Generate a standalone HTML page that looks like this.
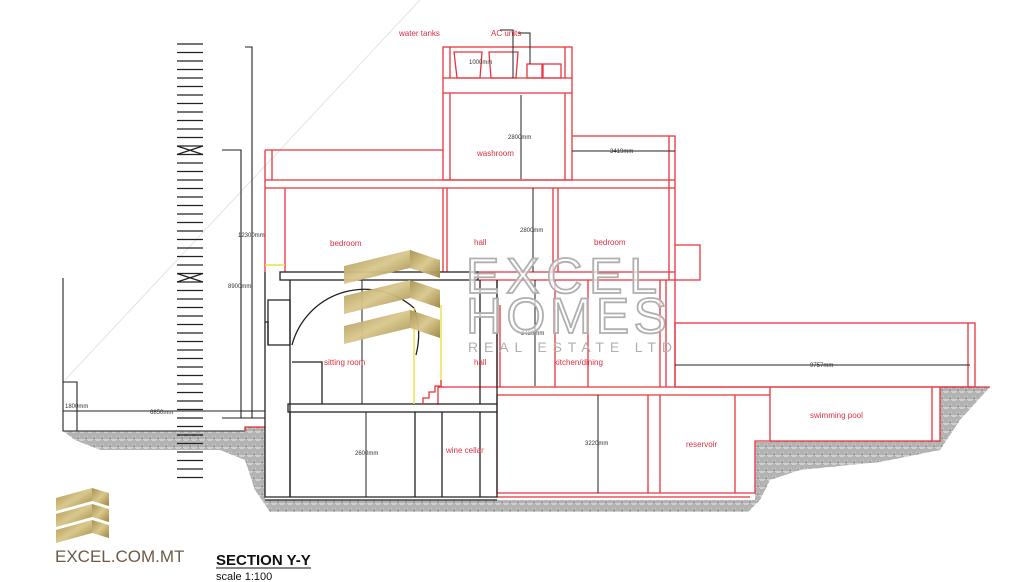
<!DOCTYPE html>
<html><head><meta charset="utf-8"><style>
html,body{margin:0;padding:0;background:#fff;width:1024px;height:582px;overflow:hidden}
svg{display:block}
text{font-family:"Liberation Sans",sans-serif}
</style></head><body>
<svg width="1024" height="582" viewBox="0 0 1024 582" xmlns="http://www.w3.org/2000/svg">
<defs>
<pattern id="h" width="8" height="8" patternUnits="userSpaceOnUse">
<rect width="8" height="8" fill="#d0d0d0"/>
<path d="M0 2H4M0 4H4M0 6H4M5 0V4M7 0V4M4 6H8M6 4V8" stroke="#808080" stroke-width="0.7"/>
</pattern>
<linearGradient id="g" x1="0" y1="0" x2="1" y2="1">
<stop offset="0" stop-color="#a8914f"/><stop offset="0.5" stop-color="#d9c88d"/><stop offset="1" stop-color="#9c8440"/>
</linearGradient>
</defs>

<path d="M63 431H245V427H265V500H755V442H770V441H940V387H990L960 420L940 450L880 462L800 470L770 480L760 500L748 512H270L255 490L245 460L220 450H100L75 440Z" fill="url(#h)"/>

<line x1="65" y1="380" x2="420" y2="0" stroke="#e4e4e4" stroke-width="1"/>

<g stroke="#222" stroke-width="1.2">
<path d="M177 44H203M177 52.5H203M177 61H203M177 69.5H203M177 78H203M177 86.5H203M177 95H203M177 103.5H203M177 112H203M177 120.5H203M177 129H203M177 137.5H203M177 146H203M177 154.5H203M177 163H203M177 171.5H203M177 180H203M177 188.5H203M177 197H203M177 205.5H203M177 214H203M177 222.5H203M177 231H203M177 239.5H203M177 248H203M177 256.5H203M177 265H203M177 273.5H203M177 282H203M177 290.5H203M177 299H203M177 307.5H203M177 316H203M177 324.5H203M177 333H203M177 341.5H203M177 350H203M177 358.5H203M177 367H203M177 375.5H203M177 384H203M177 392.5H203M177 401H203M177 409.5H203M177 418H203M177 426.5H203M177 435H203M177 443.5H203M177 452H203M177 460.5H203M177 469H203M177 477.5H203"/>
<path d="M177 146L203 154.5M203 146L177 154.5M177 273.5L203 282M203 273.5L177 282"/>
</g>

<g stroke="#222" stroke-width="1.1" fill="none">
<path d="M245 47H252V418M222 150H241V418"/>
<path d="M63 278V431H245M63 382H77V431M63 411H265M222 418H265"/>
</g>
<g font-size="6" fill="#333">
<text x="238" y="237">12300mm</text>
<text x="228" y="288">8900mm</text>
<text x="65" y="408">1800mm</text>
<text x="150" y="414">6850mm</text>
</g>
<path d="M245 431V427H265" stroke="#e03030" stroke-width="1.3" fill="none"/>

<g stroke="#e8343c" stroke-width="1.3" fill="none">
<rect x="443" y="47" width="129" height="133"/>
<path d="M450 47V78M565 47V78M443 78H572M443 93H572M450 93V180M565 93V180"/>
<path d="M454 52H482L480 78H457ZM489 52H518L516 78H491Z"/>
<rect x="527" y="64" width="15" height="14"/><rect x="543" y="64" width="18" height="14"/>
<path d="M265 150H443M272 150V180M265 150V272"/>
<path d="M572 136H675V280M669 136V280"/>
<path d="M265 180H675M265 188H675"/>
<path d="M285 188V272M443 188V272M447 188V272M553 188V272M558 188V272M675 245H700V280H675"/>
<path d="M478 272H675M478 280H675"/>
<path d="M497 280V387M500 305V387M555 280V387M588 280V387M660 280V387M666 280V387M675 280V387"/>
<rect x="675" y="323" width="300" height="64"/>
<path d="M968 323V387"/>
<path d="M438 387H770M497 395H770M770 387H990"/>
<path d="M438 404V387L444 387"/>
<path d="M497 395V493H755V441H940V387M648 395V493M660 395V493M735 395V493"/>
<path d="M770 387V441M932 387V441"/>
<path d="M497 497H750"/>
</g>

<g stroke="#222" stroke-width="1.3" fill="none">
<rect x="280" y="272" width="198" height="8"/>
<path d="M265 272V497H497V412M290 280V497M265 500H497"/>
<rect x="288" y="404" width="209" height="8"/>
<path d="M290 412V497M415 412V497M442 412V497M480 412V497"/>
<path d="M292 362H322V404"/>
<path d="M292 345A75 75 0 0 1 414 308" />
<path d="M414 308A80 80 0 0 1 416 355"/>
<path d="M480 280V404M497 280V404"/>
<path d="M268 300H290V345H268Z"/>
<path d="M265 322H268V345"/>
</g>
<path d="M265 265H285" stroke="#e8e040" stroke-width="1.4"/>
<path d="M414 308V404M441 305V385" stroke="#e8e040" stroke-width="1.4" fill="none"/>
<path d="M423 404V398H429V392H435V386H441V380" stroke="#e8343c" stroke-width="1.3" fill="none"/>

<g stroke="#222" stroke-width="1" fill="none">
<path d="M521 95V179M533 188V272M535 280V386M598 395V493M366 412V497M362 280V404"/>
<path d="M572 151H675M675 365H970"/>
<path d="M500 30H513V78M518 33H530V64"/>
</g>
<g font-size="6" fill="#333">
<text x="469" y="64">1000mm</text>
<text x="508" y="139">2800mm</text>
<text x="520" y="232">2800mm</text>
<text x="521" y="335">3480mm</text>
<text x="585" y="445">3220mm</text>
<text x="355" y="455">2600mm</text>
<text x="610" y="153">3419mm</text>
<text x="810" y="367">9757mm</text>
</g>

<g font-size="8" fill="#e03040">
<text x="399" y="36">water tanks</text>
<text x="491" y="36">AC units</text>
<text x="477" y="156">washroom</text>
<text x="330" y="246">bedroom</text>
<text x="474" y="245">hall</text>
<text x="594" y="245">bedroom</text>
<text x="324" y="365">sitting room</text>
<text x="474" y="365">hall</text>
<text x="554" y="365">kitchen/dining</text>
<text x="446" y="453">wine cellar</text>
<text x="686" y="447">reservoir</text>
<text x="810" y="418">swimming pool</text>
</g>

<g stroke="#b0b0b0" stroke-width="1.8" font-size="50" letter-spacing="5">
<text x="466" y="293" fill="rgba(255,255,255,0.65)" textLength="196">EXCEL</text>
<text x="466" y="333" fill="rgba(255,255,255,0.65)" textLength="206">HOMES</text>
</g>
<text x="468" y="352" font-size="14" fill="#b0b0b0" textLength="204" lengthAdjust="spacing">REAL ESTATE LTD</text>
<g fill="url(#g)" opacity="0.95">
<path d="M344 266L410 250L410 268L344 284Z"/><path d="M410 250L440 260V278L410 268Z"/>
<path d="M344 296L410 280L410 298L344 314Z"/><path d="M410 280L440 290V308L410 298Z"/>
<path d="M344 326L410 310L410 328L344 344Z"/><path d="M410 310L440 320V338L410 328Z"/>
</g>

<g fill="url(#g)">
<path d="M56 498L92 488V501L56 511Z"/><path d="M92 488L109 493V506L92 501Z"/>
<path d="M56 514L92 504V517L56 527Z"/><path d="M92 504L109 509V522L92 517Z"/>
<path d="M56 530L92 520V533L56 543Z"/><path d="M92 520L109 525V538L92 533Z"/>
</g>
<text x="55" y="562" font-size="17" fill="#6e5a48">EXCEL.COM.MT</text>
<text x="216" y="565" font-size="15" font-weight="bold" fill="#111">SECTION Y-Y</text>
<line x1="216" y1="568" x2="311" y2="568" stroke="#111" stroke-width="1"/>
<text x="216" y="580" font-size="11" fill="#111">scale 1:100</text>
</svg>
</body></html>
